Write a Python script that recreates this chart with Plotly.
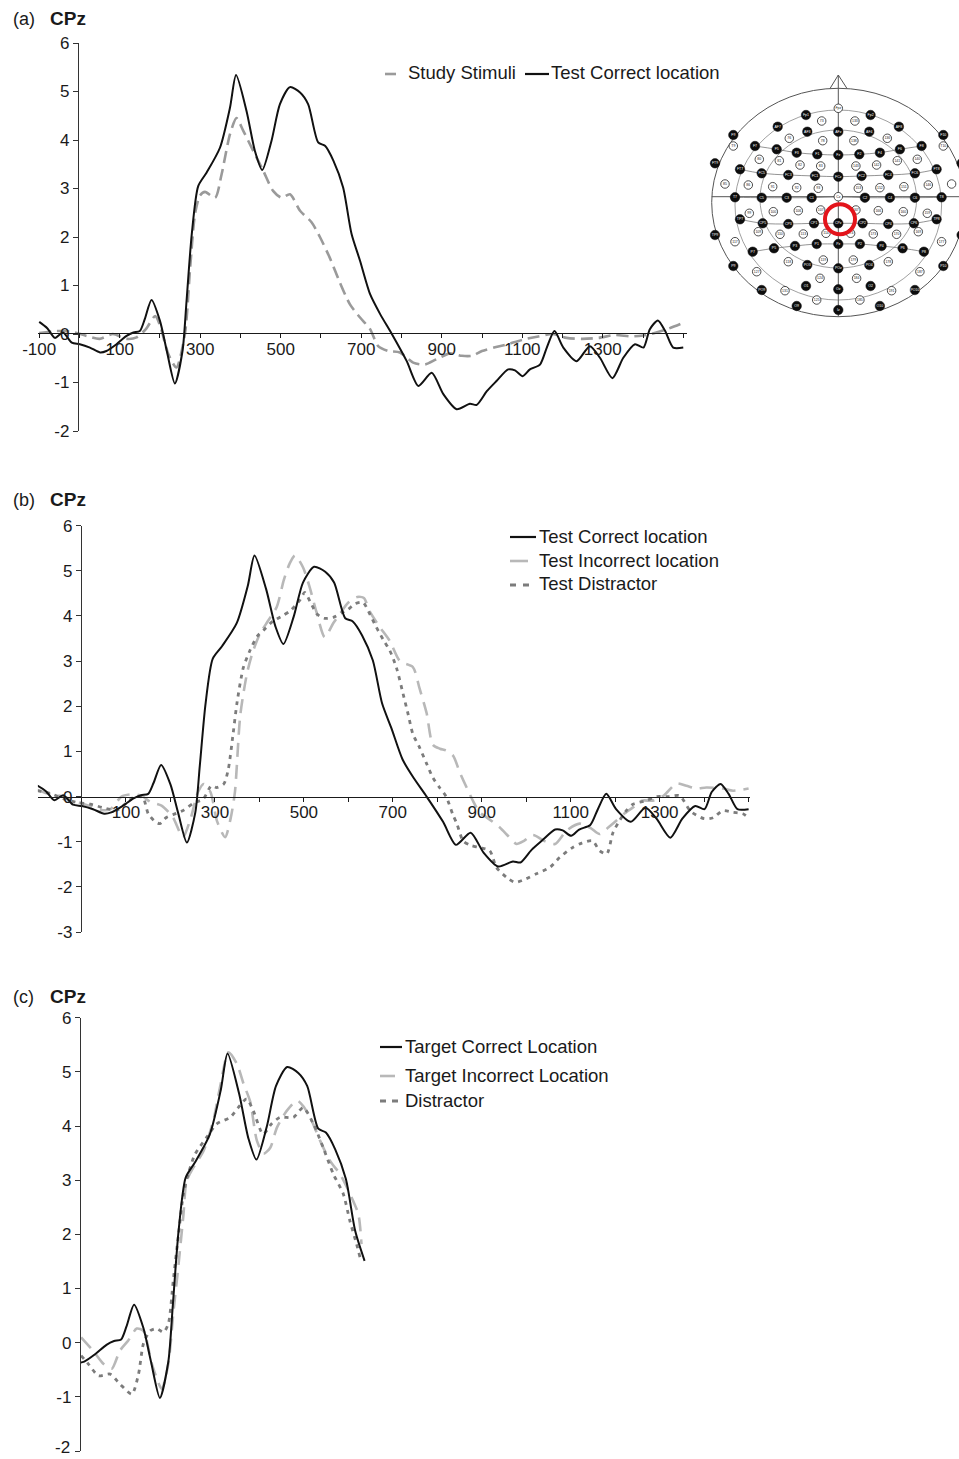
import plotly.graph_objects as go

W, H = 959, 1459
FONT = "Liberation Sans, Arial, Helvetica, sans-serif"
INK = "#1a1a1a"

# ---------------- ERP amplitudes at CPz (time in ms, amplitude in µV) ----------------
t_correct = [-100, -80, -61, -41, -19, 1, 26, 51, 67, 92,
             117, 134, 150, 162, 179, 200, 217, 237, 256, 266,
             279, 295, 316, 349, 374, 389, 415, 436, 454, 477,
             498, 523, 548, 568, 593, 610, 631, 655, 676, 697,
             722, 747, 776, 813, 842, 875, 904, 937, 970, 987,
             1012, 1036, 1065, 1082, 1101, 1119, 1144, 1161, 1180, 1202,
             1235, 1268, 1293, 1324, 1351, 1380, 1401, 1417, 1437, 1455,
             1475, 1500]
v_correct = [0.25, 0.12, -0.08, 0.03, -0.18, -0.21, -0.28, -0.38, -0.35, -0.21,
             -0.04, 0.03, 0.06, 0.30, 0.70, 0.27, -0.35, -1.02, -0.35, 0.68,
             2.06, 3.05, 3.33, 3.84, 4.67, 5.34, 4.60, 3.77, 3.38, 3.98,
             4.74, 5.09, 4.98, 4.74, 3.95, 3.88, 3.57, 3.02, 2.06, 1.51,
             0.82, 0.41, 0.0, -0.56, -1.07, -0.80, -1.24, -1.55, -1.44, -1.46,
             -1.18, -0.97, -0.73, -0.75, -0.87, -0.73, -0.63, -0.28, 0.06, -0.28,
             -0.56, -0.25, -0.49, -0.91, -0.49, -0.21, -0.28, 0.10, 0.28, 0.06,
             -0.28, -0.28]

t_study = [-100, -60, -20, 18, 50, 83, 117, 142, 165, 188,
           200, 221, 241, 262, 275, 287, 299, 312, 337, 353,
           374, 390, 407, 432, 457, 481, 502, 523, 548, 577,
           598, 622, 647, 672, 697, 722, 742, 767, 796, 829,
           858, 887, 920, 950, 975, 1000, 1030, 1060, 1100, 1140,
           1175, 1210, 1250, 1290, 1330, 1370, 1400, 1420, 1460, 1500]
v_study = [0.02, 0.06, 0.05, -0.04, -0.10, 0.0, -0.10, -0.07, 0.10, 0.37,
           0.18, -0.42, -0.69, 0.0, 1.37, 2.47, 2.85, 2.93, 2.81, 3.29,
           4.12, 4.45, 4.19, 3.77, 3.36, 2.95, 2.81, 2.88, 2.54, 2.30,
           1.99, 1.57, 1.06, 0.61, 0.34, 0.10, -0.25, -0.35, -0.38, -0.59,
           -0.63, -0.52, -0.40, -0.45, -0.45, -0.35, -0.28, -0.22, -0.12, -0.05,
           0.0, -0.08, -0.10, -0.08, -0.02, -0.05, -0.03, 0.0, 0.10, 0.23]

t_incorrect = [-100, -70, -40, -15, 15, 45, 65, 90, 115, 135,
               155, 180, 205, 228, 245, 262, 275, 290, 305, 323,
               335, 345, 357, 372, 385, 401, 420, 439, 455, 468,
               480, 498, 513, 528, 547, 566, 581, 600, 620, 635,
               648, 671, 693, 716, 745, 760, 776, 790, 806, 820,
               836, 850, 866, 880, 895, 911, 940, 960, 978, 995,
               1015, 1040, 1065, 1091, 1120, 1145, 1165, 1185, 1203, 1220,
               1240, 1260, 1285, 1310, 1338, 1360, 1383, 1405, 1442, 1465,
               1500]
v_incorrect = [0.15, 0.05, 0.0, -0.10, -0.20, -0.30, -0.28, 0.0, 0.05, 0.02,
               -0.12, -0.20, -0.45, -0.90, -0.50, 0.10, 0.28, 0.10, -0.55, -0.90,
               -0.50, 0.10, 1.80, 2.72, 3.20, 3.60, 3.90, 4.20, 4.80, 5.16,
               5.34, 5.08, 4.64, 4.10, 3.53, 3.84, 4.05, 4.30, 4.42, 4.40,
               4.10, 3.75, 3.45, 3.00, 2.87, 2.40, 1.85, 1.15, 1.06, 1.02,
               0.90, 0.55, 0.20, -0.09, -0.35, -0.46, -0.68, -0.88, -1.05, -0.98,
               -0.85, -0.98, -1.05, -0.75, -0.60, -0.70, -0.83, -0.68, -0.53, -0.38,
               -0.24, -0.09, -0.09, 0.03, 0.29, 0.24, 0.18, 0.20, 0.18, 0.13,
               0.18]

t_distractor = [-100, -70, -40, -10, 20, 50, 80, 100, 120, 138,
                150, 165, 176, 190, 206, 230, 251, 274, 292, 304,
                320, 330, 341, 350, 364, 379, 395, 409, 430, 453,
                470, 491, 502, 515, 529, 545, 566, 585, 600, 615,
                633, 648, 663, 680, 693, 708, 723, 735, 745, 760,
                776, 790, 805, 820, 835, 844, 858, 875, 895, 918,
                933, 956, 975, 1000, 1023, 1053, 1075, 1104, 1125, 1149,
                1165, 1181, 1195, 1210, 1225, 1240, 1270, 1293, 1320, 1345,
                1370, 1400, 1420, 1442, 1465, 1487, 1500]
v_distractor = [0.13, 0.07, -0.05, -0.13, -0.17, -0.25, -0.30, -0.15, 0.0, -0.02,
                -0.38, -0.55, -0.60, -0.47, -0.40, -0.30, -0.15, -0.05, 0.24, 0.20,
                0.28, 0.60, 1.40, 2.10, 2.86, 3.24, 3.55, 3.68, 3.88, 4.01,
                4.12, 4.35, 4.52, 4.30, 4.05, 3.95, 3.97, 4.07, 4.15, 4.27,
                4.30, 4.05, 3.75, 3.45, 3.24, 2.86, 2.28, 1.80, 1.39, 1.09,
                0.73, 0.42, 0.20, 0.0, -0.40, -0.60, -0.98, -1.08, -1.13, -1.20,
                -1.57, -1.79, -1.90, -1.82, -1.71, -1.57, -1.35, -1.13, -1.03, -0.98,
                -1.20, -1.27, -0.80, -0.53, -0.31, -0.17, -0.09, 0.0, 0.0, 0.02,
                -0.33, -0.49, -0.47, -0.31, -0.35, -0.38, -0.47]

t_target_incorrect = [60, 87, 110, 129, 147, 166, 185, 200, 219, 241,
                      256, 267, 279, 290, 297, 312, 335, 357, 372, 391,
                      410, 425, 440, 455, 470, 485, 500, 522, 545, 559,
                      578, 597, 619, 642, 664, 683, 690]
v_target_incorrect = [0.10, -0.15, -0.39, -0.48, -0.15, 0.04, 0.26, 0.22, -0.39, -0.85,
                      -0.39, 0.53, 1.45, 2.37, 2.98, 3.23, 3.54, 4.10, 4.71, 5.36,
                      5.15, 4.78, 4.45, 3.73, 3.49, 3.60, 3.97, 4.28, 4.47, 4.37,
                      4.10, 3.73, 3.36, 3.11, 2.75, 2.37, 1.82]

t_target_distractor = [60, 76, 99, 125, 147, 174, 189, 200, 215, 230,
                       245, 256, 267, 279, 290, 301, 316, 342, 365, 395,
                       413, 432, 447, 469, 488, 507, 537, 559, 582, 604,
                       627, 649, 664, 679, 687]
v_target_distractor = [-0.24, -0.39, -0.61, -0.58, -0.76, -0.95, -0.58, -0.02, 0.22, 0.26,
                       0.19, 0.35, 1.14, 2.01, 2.75, 3.12, 3.48, 3.79, 4.04, 4.16,
                       4.34, 4.50, 4.28, 3.85, 4.04, 4.16, 4.16, 4.34, 4.04, 3.60,
                       3.11, 2.75, 2.25, 1.82, 1.57]

# window of the target-locked panel (c)
c_window = (50, 700)

x_tick_vals = list(range(-100, 1501, 100))
x_tick_labels = [-100, 100, 300, 500, 700, 900, 1100, 1300]
x_tick_text = [str(v) if v in x_tick_labels else "" for v in x_tick_vals]

# ---------------- electrode montage (left hemisphere + midline) ----------------
# (x, y, filled, label) in montage drawing units; right side is mirrored
montage_cx = 838.3
montage_left = [
    (806.0, 115.0, True, "Fp1"), (821.7, 121.0, False, "73"),
    (733.3, 135.0, True, "F9"), (777.7, 126.7, True, "AF7"), (789.3, 138.3, False, "76"),
    (807.3, 131.7, True, "AF3"), (822.7, 140.7, False, "78"),
    (733.3, 146.0, False, "T9"), (755.0, 146.0, True, "F7"), (776.7, 149.3, True, "F5"),
    (796.7, 152.7, True, "F3"), (817.3, 154.3, True, "F1"),
    (759.3, 159.3, False, "80"), (779.3, 160.7, False, "81"), (800.0, 165.0, False, "82"),
    (820.7, 166.0, False, "83"),
    (715.0, 163.3, True, "FT9"), (740.0, 169.3, True, "FT7"), (761.7, 173.3, True, "FC5"),
    (788.3, 175.0, True, "FC3"), (815.0, 176.0, True, "FC1"),
    (725.0, 184.0, False, "85"), (748.3, 185.0, False, "86"), (772.7, 186.7, False, "91"),
    (796.7, 187.7, False, "92"), (818.3, 188.3, False, "93"),
    (735.0, 197.3, True, "T7"), (761.7, 197.7, True, "C5"), (786.7, 197.7, True, "C3"),
    (811.7, 197.7, True, "C1"),
    (749.3, 213.3, False, "99"), (773.3, 211.7, False, "100"), (798.3, 210.7, False, "106"),
    (820.7, 210.0, False, "107"),
    (715.0, 235.0, True, "TP9"), (740.0, 219.3, True, "TP7"), (762.7, 223.3, True, "CP5"),
    (788.3, 224.0, True, "CP3"), (814.0, 223.3, True, "CP1"),
    (735.0, 241.7, False, "117"), (758.3, 231.7, False, "109"), (780.0, 234.3, False, "110"),
    (803.3, 234.0, False, "113"), (826.0, 233.3, False, "114"),
    (752.7, 251.7, True, "P7"), (774.0, 248.3, True, "P5"), (795.0, 246.0, True, "P3"),
    (816.7, 244.0, True, "P1"),
    (733.3, 266.0, True, "P9"), (756.7, 271.7, False, "127"), (788.3, 261.7, False, "118"),
    (807.3, 265.0, True, "PO3"), (823.3, 260.0, False, "119"),
    (761.7, 290.0, True, "PO9"), (785.0, 290.7, False, "131"), (806.0, 286.0, True, "O1"),
    (820.0, 278.3, False, "124"),
    (796.7, 306.0, True, "O9"), (816.7, 300.0, False, "125"),
]
montage_mid = [
    (108.3, False, "Fpz"), (131.7, True, "AFz"), (155.0, True, "Fz"), (176.7, True, "FCz"),
    (196.7, False, "Cz"), (223.3, True, "CPz"), (244.0, True, "Pz"), (268.3, True, "POz"),
    (289.3, True, "Oz"), (310.0, True, "Iz"),
]


def mirror_label(lbl):
    digits = "".join(ch for ch in lbl if ch.isdigit())
    head = lbl[: len(lbl) - len(digits)]
    if not digits:
        return lbl
    n = int(digits)
    if head:
        return head + str(n + 1)
    return str(n + 60)


def fx(p):
    return p / W


def fy(p):
    return 1 - p / H


fig = go.Figure()


def add_curve(t, v, xa, ya, color, width, dash=None):
    fig.add_trace(go.Scatter(
        x=t, y=v, xaxis=xa, yaxis=ya, mode="lines",
        line=dict(color=color, width=width, dash=dash, shape="spline", smoothing=0.7),
        hoverinfo="skip", showlegend=False))


BLACK = "#111111"
STUDY_GREY = "#9a9a9a"
LIGHT_GREY = "#b8b8b8"
DARK_GREY = "#7c7c7c"
DASH_STUDY = "12px,6px"
DASH_LONG = "14px,8px"
DASH_DOT = "4px,5px"

# (a) study vs test correct
add_curve(t_study, v_study, "x", "y", STUDY_GREY, 2.6, DASH_STUDY)
add_curve(t_correct, v_correct, "x", "y", BLACK, 2.0)

# (b) test conditions
add_curve(t_incorrect, v_incorrect, "x2", "y2", LIGHT_GREY, 2.6, DASH_LONG)
add_curve(t_distractor, v_distractor, "x2", "y2", DARK_GREY, 2.8, DASH_DOT)
add_curve(t_correct, v_correct, "x2", "y2", BLACK, 2.0)

# (c) target-locked window
tc = [t for t in t_correct if c_window[0] <= t <= c_window[1]]
vc = [v for t, v in zip(t_correct, v_correct) if c_window[0] <= t <= c_window[1]]
add_curve(t_target_incorrect, v_target_incorrect, "x3", "y3", LIGHT_GREY, 2.6, DASH_LONG)
add_curve(t_target_distractor, v_target_distractor, "x3", "y3", DARK_GREY, 2.8, DASH_DOT)
add_curve(tc, vc, "x3", "y3", BLACK, 2.0)

# ---------------- electrode montage drawing ----------------
mx, my, mfill, mlab = [], [], [], []
for x, y, filled, lbl in montage_left:
    mx += [x, 2 * montage_cx - x]
    my += [y, y]
    mfill += [filled, filled]
    mlab += [lbl, mirror_label(lbl)]
for y, filled, lbl in montage_mid:
    mx.append(montage_cx)
    my.append(y)
    mfill.append(filled)
    mlab.append(lbl)

# row lines through the filled electrodes
row_names = [["F7", "F5", "F3", "F1"], ["FT7", "FC5", "FC3", "FC1"], ["T7", "C5", "C3", "C1"],
             ["TP7", "CP5", "CP3", "CP1"], ["P7", "P5", "P3", "P1"]]
row_mid = {"F7": "Fz", "FT7": "FCz", "T7": "Cz", "TP7": "CPz", "P7": "Pz"}
pos = {lbl: (x, y) for x, y, lbl in zip(mx, my, mlab)}
for row in row_names:
    seq = row + [row_mid[row[0]]] + [mirror_label(l) for l in reversed(row)]
    fig.add_trace(go.Scatter(
        x=[pos[l][0] for l in seq], y=[pos[l][1] for l in seq], xaxis="x4", yaxis="y4",
        mode="lines", line=dict(color="#666666", width=0.7, shape="spline"),
        hoverinfo="skip", showlegend=False))

# electrodes right at the cut-off edge keep their dot but carry no caption
edge_x = 950
fig.add_trace(go.Scatter(
    x=[x for x, f in zip(mx, mfill) if not f], y=[y for y, f in zip(my, mfill) if not f],
    text=[l if x < edge_x else "" for x, l, f in zip(mx, mlab, mfill) if not f],
    xaxis="x4", yaxis="y4", cliponaxis=True,
    mode="markers+text", textposition="middle center",
    textfont=dict(size=3.5, color="#222222", family=FONT),
    marker=dict(size=8.5, color="white", line=dict(color="#222222", width=0.8)),
    hoverinfo="skip", showlegend=False))
fig.add_trace(go.Scatter(
    x=[x for x, f in zip(mx, mfill) if f], y=[y for y, f in zip(my, mfill) if f],
    text=[l if x < edge_x else "" for x, l, f in zip(mx, mlab, mfill) if f],
    xaxis="x4", yaxis="y4", cliponaxis=True,
    mode="markers+text", textposition="middle center",
    textfont=dict(size=3.5, color="white", family=FONT),
    marker=dict(size=9.5, color="#0d0d0d", line=dict(color="#0d0d0d", width=0.5)),
    hoverinfo="skip", showlegend=False))

shapes = []
head_line = dict(color="#555555", width=1)
shapes.append(dict(type="circle", xref="x4", yref="y4", x0=711.7, x1=964.9, y0=88.3, y1=316.7,
                   line=head_line, layer="below"))
shapes.append(dict(type="circle", xref="x4", yref="y4", x0=735.0, x1=941.6, y0=110.0, y1=300.0,
                   line=dict(color="#777777", width=0.7), layer="below"))
shapes.append(dict(type="circle", xref="x4", yref="y4", x0=760.0, x1=916.6, y0=130.0, y1=268.0,
                   line=dict(color="#777777", width=0.7), layer="below"))
shapes.append(dict(type="path", xref="x4", yref="y4", path="M 830,88.5 L 838.3,75 L 847,88.5",
                   line=head_line, layer="below"))
shapes.append(dict(type="line", xref="x4", yref="y4", x0=838.3, x1=838.3, y0=75, y1=316.7,
                   line=head_line, layer="below"))
shapes.append(dict(type="line", xref="x4", yref="y4", x0=711.7, x1=964.9, y0=196.7, y1=196.7,
                   line=head_line, layer="below"))
shapes.append(dict(type="circle", xref="x4", yref="y4", x0=825.0, x1=855.0, y0=204.3, y1=234.3,
                   line=dict(color="#e3141b", width=4)))


# ---------------- legends ----------------
def legend_item(x0, x1, y, color, width, dash=None):
    shapes.append(dict(type="line", xref="paper", yref="paper", x0=fx(x0), x1=fx(x1),
                       y0=fy(y), y1=fy(y), line=dict(color=color, width=width, dash=dash)))


annotations = []


def text_at(x, y, s, size=18.5, bold=False, xanchor="left", yanchor="middle"):
    annotations.append(dict(x=fx(x), y=fy(y), xref="paper", yref="paper", xanchor=xanchor,
                            yanchor=yanchor, showarrow=False,
                            text=f"<b>{s}</b>" if bold else s,
                            font=dict(family=FONT, size=size, color=INK)))


# panel (a)
legend_item(385, 396, 74, STUDY_GREY, 2.6)
text_at(406, 72, "Study Stimuli")
legend_item(525, 549, 74, BLACK, 2.2)
text_at(549, 72, "Test Correct location")
# panel (b)
legend_item(510, 536, 537, BLACK, 2.2)
text_at(537, 536, "Test Correct location")
legend_item(510, 528, 561, LIGHT_GREY, 2.6)
text_at(537, 560, "Test Incorrect location")
legend_item(510, 531, 585, DARK_GREY, 2.8, "6px,7px")
text_at(537, 584, "Test Distractor")
# panel (c)
legend_item(380, 402, 1047, BLACK, 2.2)
text_at(403, 1046, "Target Correct Location")
legend_item(380, 395, 1076, LIGHT_GREY, 2.6)
text_at(403, 1075, "Target Incorrect Location")
legend_item(380, 398, 1101, DARK_GREY, 2.8, "6px,6px")
text_at(403, 1100, "Distractor")

# panel titles
for y, tag in [(19.5, "(a)"), (500, "(b)"), (997, "(c)")]:
    text_at(11, y, tag, size=18)
    text_at(48, y - 0.5, "CPz", size=19, bold=True)

# lowest amplitude label of panel (c) sits on the bottom edge of the page,
# so it is anchored to that edge instead of being centred on its tick
c_bottom_label = -2
text_at(71.5, 1459, str(c_bottom_label), size=17, xanchor="right", yanchor="bottom")


def time_axis(x0, x1, rng, ypos, visible=True):
    return dict(domain=[fx(x0), fx(x1)], range=rng, anchor="free", position=fy(ypos),
                visible=visible, showline=True, linecolor=INK, linewidth=1.4,
                ticks="outside", ticklen=4, tickwidth=1.2, tickcolor=INK,
                tickmode="array", tickvals=x_tick_vals, ticktext=x_tick_text,
                ticklabelstandoff=-4,
                tickfont=dict(family=FONT, size=17, color=INK), automargin=False,
                showgrid=False, zeroline=False, fixedrange=True)


def amp_axis(top, bottom, rng, xpos, skip=None):
    vals = list(range(rng[0], rng[1] + 1))
    text = ["" if v == skip else str(v) for v in vals]
    return dict(domain=[fy(bottom), fy(top)], range=rng, anchor="free", position=fx(xpos),
                showline=True, linecolor="#333333", linewidth=1.4,
                ticks="outside", ticklen=5, tickwidth=1.2, tickcolor="#333333",
                tickmode="array", tickvals=vals, ticktext=text,
                automargin=False, ticklabeloverflow="allow",
                tickfont=dict(family=FONT, size=17, color=INK),
                showgrid=False, zeroline=False, fixedrange=True)


fig.update_layout(
    width=W, height=H, margin=dict(l=0, r=0, t=0, b=0, pad=0, autoexpand=False),
    paper_bgcolor="white", plot_bgcolor="rgba(0,0,0,0)",
    showlegend=False,
    xaxis=time_axis(38.0, 687.3, [-103, 1510], 333.0),
    yaxis=amp_axis(43.0, 431.0, [-2, 6], 78.0),
    xaxis2=time_axis(37.9, 749.5, [-98, 1502], 796.6),
    yaxis2=amp_axis(525.7, 932.0, [-3, 6], 81.0),
    xaxis3=time_axis(80.0, 400.0, [57.5, 776.6], 1451.0, visible=False),
    yaxis3=amp_axis(1017.7, 1451.0, [-2, 6], 80.0, skip=c_bottom_label),
    xaxis4=dict(domain=[fx(700), 1], range=[700, 959], visible=False, fixedrange=True,
                automargin=False),
    yaxis4=dict(domain=[fy(330), fy(70)], range=[330, 70], visible=False, fixedrange=True,
                anchor="x4", automargin=False),
    shapes=shapes,
    annotations=annotations,
)
fig.layout.xaxis4.anchor = "y4"

# the page body carries no default margin, so the figure fills the window exactly
fig.write_html(
    "out.html",
    post_script="document.body.style.margin='0';document.body.style.overflow='hidden';",
)
